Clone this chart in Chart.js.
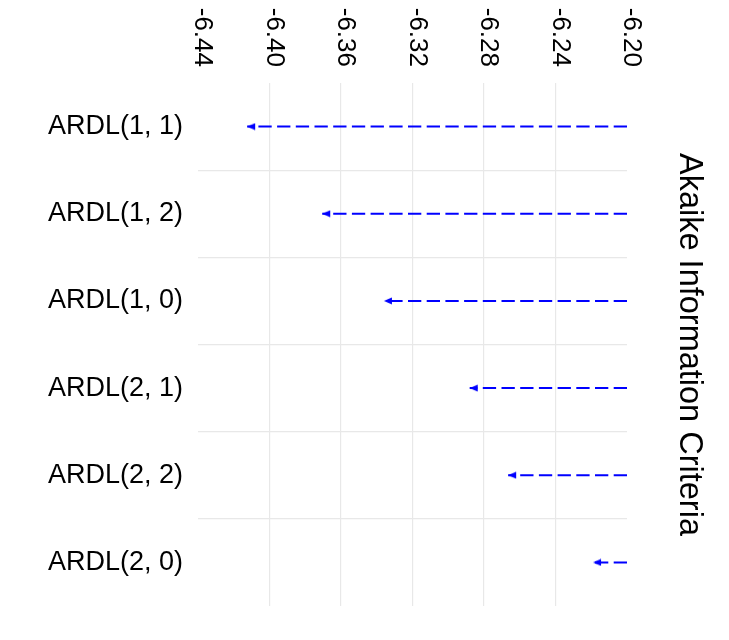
<!DOCTYPE html>
<html>
<head>
<meta charset="utf-8">
<title>Akaike Information Criteria</title>
<script src="https://cdn.jsdelivr.net/npm/chart.js@4.4.1/dist/chart.umd.min.js"></script>
<style>
  html, body { margin: 0; padding: 0; background: #fff; }
  #wrap { width: 729px; height: 640px; }
</style>
</head>
<body>
<div id="wrap"><canvas id="aicChart"></canvas></div>
<script>
// --- DATA ---
const models = ['ARDL(1, 1)', 'ARDL(1, 2)', 'ARDL(1, 0)', 'ARDL(2, 1)', 'ARDL(2, 2)', 'ARDL(2, 0)'];
const aicValues = [-6.4125, -6.3705, -6.336, -6.288, -6.2665, -6.219];
const segmentStart = -6.20; // every arrow starts here
const aicTicks = [-6.44, -6.40, -6.36, -6.32, -6.28, -6.24, -6.20];

// Global Chart Configuration
Chart.defaults.font.family = "'Liberation Sans', Arial, sans-serif";
Chart.defaults.color = '#000';

const gridColor = '#e8e8e8';
const clear = 'rgba(0,0,0,0)';

// arrow head image, tip sits at the centre so it lands on the value
function makeArrowHead() {
    const c = document.createElement('canvas');
    c.width = 18; c.height = 8;
    const g = c.getContext('2d');
    g.fillStyle = '#0000ff';
    g.beginPath();
    g.moveTo(9, 4);
    g.lineTo(17, 0.6);
    g.lineTo(17, 7.4);
    g.closePath();
    g.fill();
    return c;
}
const arrowHead = makeArrowHead();

// top tick labels read top-to-bottom, Chart.js only rotates the other way
const topTickLabels = {
    id: 'topTickLabels',
    afterDraw(chart) {
        const scale = chart.scales.x;
        const ctx = chart.ctx;
        ctx.save();
        ctx.font = "26px 'Liberation Sans', Arial, sans-serif";
        ctx.fillStyle = '#000';
        ctx.textAlign = 'right';
        ctx.textBaseline = 'alphabetic';
        scale.ticks.forEach(t => {
            const px = scale.getPixelForValue(t.value);
            ctx.save();
            ctx.translate(px - 3, scale.bottom - 16);
            ctx.rotate(Math.PI / 2);
            ctx.fillText(t.value.toFixed(2), 0, 0);
            ctx.restore();
        });
        ctx.restore();
    }
};

new Chart(document.getElementById('aicChart'), {
    type: 'scatter',
    data: {
        datasets: models.map((m, i) => ({
            label: m,
            data: [{ x: segmentStart, y: m }, { x: aicValues[i], y: m }],
            showLine: true,
            borderColor: '#0000ff',
            backgroundColor: '#0000ff',
            borderWidth: 2,
            borderDash: [13.3, 5.4],
            pointStyle: arrowHead,
            pointRadius: [0, 4],
            pointHoverRadius: [0, 4],
            clip: false
        }))
    },
    options: {
        responsive: true, maintainAspectRatio: false,
        animation: false,
        layout: { padding: { top: 0, left: 0, right: 0, bottom: 34 } },
        plugins: { legend: { display: false }, tooltip: { enabled: false } },
        scales: {
            x: {
                type: 'linear', position: 'top', min: -6.44, max: -6.20,
                afterBuildTicks: s => { s.ticks = aicTicks.map(v => ({ value: v })); },
                afterFit: s => { s.height = 83; },
                ticks: { display: false },
                grid: {
                    color: c => (c.index === 0 || c.index === aicTicks.length - 1) ? clear : gridColor,
                    lineWidth: 1.2, drawTicks: false
                },
                border: { display: false }
            },
            y: {
                type: 'category', labels: models, offset: true, position: 'left',
                afterFit: s => { s.width = 198; },
                ticks: { font: { size: 27 }, color: '#000', padding: 15 },
                grid: {
                    offset: true, drawTicks: false, lineWidth: 1.2,
                    color: c => (c.index === undefined || c.index === 0) ? clear : gridColor
                },
                border: { display: false }
            },
            y2: {
                type: 'category', labels: models, offset: true, position: 'right',
                afterFit: s => { s.width = 102; },
                ticks: { display: false },
                grid: { display: false },
                border: { display: false },
                title: {
                    display: true, text: 'Akaike Information Criteria',
                    font: { size: 32.5 }, color: '#000',
                    padding: { top: 21, bottom: 0 }
                }
            }
        }
    },
    plugins: [topTickLabels]
});
</script>
</body>
</html>
